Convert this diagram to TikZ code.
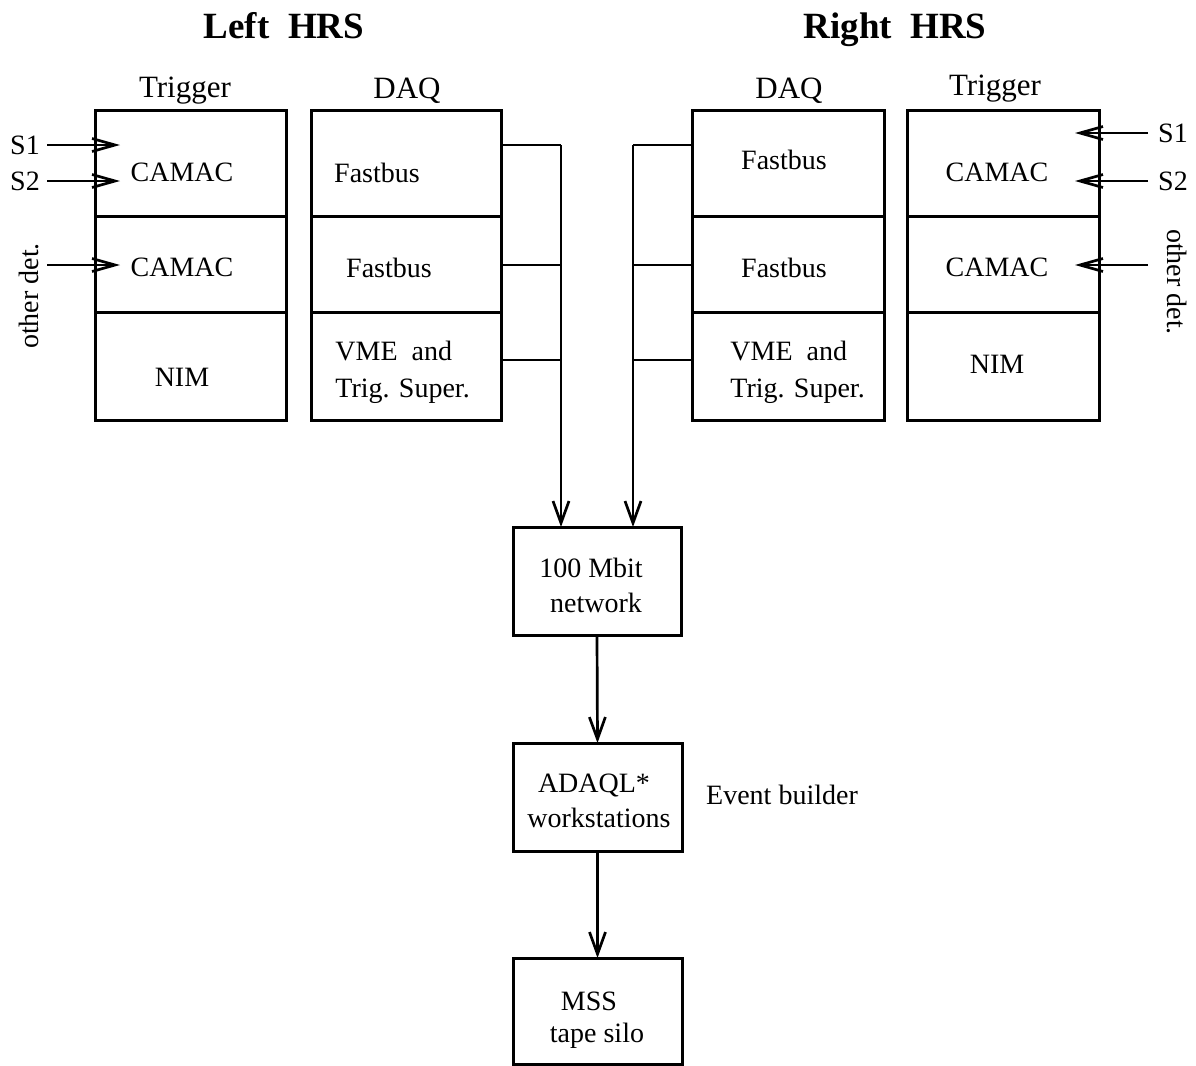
\documentclass[tikz,border=0pt]{standalone}
\usepackage{fontspec}
\setmainfont{Liberation Serif}
\usetikzlibrary{arrows.meta}
\begin{document}
\begin{tikzpicture}[x=0.5pt,y=-0.5pt,
  cell/.style={draw,line width=1.5pt,inner sep=0pt,outer sep=0pt},
  txt/.style={inner sep=0pt,anchor=base,font=\fontsize{14}{17.5}\selectfont},
  ltxt/.style={txt,anchor=base west},
  head/.style={inner sep=0pt,anchor=base,font=\fontsize{15.5}{18}\selectfont},
  title/.style={inner sep=0pt,anchor=base,font=\fontsize{18.5}{22}\selectfont\bfseries},
  conn/.style={line width=1.35pt},
  varr/.style={conn,-{Straight Barb[length=11pt,width=8pt,line width=1.35pt]}},
  harr/.style={conn,-{Straight Barb[length=11.5pt,width=6.5pt,line width=1.35pt]}}
]
\useasboundingbox (0,0) rectangle (1196,1066);
% titles
\node[title] (tl) at (284,38) {Left\ \ HRS};
\node[title] (tr) at (895,38) {Right\ \ HRS};
\node[head] (hlt) at (185,97) {Trigger};
\node[head] (hld) at (407,98) {DAQ};
\node[head] (hrd) at (789,98) {DAQ};
\node[head] (hrt) at (995,95) {Trigger};
% left trigger cells
\node[cell,minimum width=95.5pt,minimum height=53pt] (lt1) at (190.5,163) {};
\node[cell,minimum width=95.5pt,minimum height=48pt] (lt2) at (190.5,264) {};
\node[cell,minimum width=95.5pt,minimum height=54pt] (lt3) at (190.5,366) {};
% left DAQ cells
\node[cell,minimum width=95pt,minimum height=53pt] (ld1) at (406,163) {};
\node[cell,minimum width=95pt,minimum height=48pt] (ld2) at (406,264) {};
\node[cell,minimum width=95pt,minimum height=54pt] (ld3) at (406,366) {};
% right DAQ cells
\node[cell,minimum width=96pt,minimum height=53pt] (rd1) at (788,163) {};
\node[cell,minimum width=96pt,minimum height=48pt] (rd2) at (788,264) {};
\node[cell,minimum width=96pt,minimum height=54pt] (rd3) at (788,366) {};
% right trigger cells
\node[cell,minimum width=96pt,minimum height=53pt] (rt1) at (1003,163) {};
\node[cell,minimum width=96pt,minimum height=48pt] (rt2) at (1003,264) {};
\node[cell,minimum width=96pt,minimum height=54pt] (rt3) at (1003,366) {};
% cell texts
\node[txt] (tlt1) at (182,181) {CAMAC};
\node[txt] (tlt2) at (182,276) {CAMAC};
\node[txt] (tlt3) at (182,386) {NIM};
\node[txt] (tld1) at (377,182) {Fastbus};
\node[txt] (tld2) at (389,277) {Fastbus};
\node[ltxt] (tld3a) at (335,360) {VME\ \ and};
\node[ltxt] (tld3b) at (335,397) {Trig. Super.};
\node[txt] (trd1) at (784,169) {Fastbus};
\node[txt] (trd2) at (784,277) {Fastbus};
\node[ltxt] (trd3a) at (730,360) {VME\ \ and};
\node[ltxt] (trd3b) at (730,397) {Trig. Super.};
\node[txt] (trt1) at (997,181) {CAMAC};
\node[txt] (trt2) at (997,276) {CAMAC};
\node[txt] (trt3) at (997,373) {NIM};
% central chain
\node[cell,minimum width=84pt,minimum height=54pt] (net) at (597,581) {};
\node[txt] (tnet1) at (591,577) {100 Mbit};
\node[txt] (tnet2) at (596,612) {network};
\node[cell,minimum width=84.5pt,minimum height=54pt] (ws) at (597.5,797) {};
\node[txt] (tws1) at (594,792) {ADAQL*};
\node[txt] (tws2) at (599,827) {workstations};
\node[txt] (evb) at (782,804) {Event builder};
\node[cell,minimum width=84.5pt,minimum height=53pt] (mss) at (597.5,1011) {};
\node[txt] (tmss1) at (589,1010) {MSS};
\node[txt] (tmss2) at (597,1042) {tape silo};
% inputs labels
\node[txt] (s1l) at (25,154) {S1};
\node[txt] (s2l) at (25,190) {S2};
\node[inner sep=0pt,font=\fontsize{14}{17.5}\selectfont,rotate=90] (odl) at (29,296) {other det.};
\node[txt] (s1r) at (1173,142) {S1};
\node[txt] (s2r) at (1173,190) {S2};
\node[inner sep=0pt,font=\fontsize{14}{17.5}\selectfont,rotate=-90] (odr) at (1177,282) {other det.};
% input arrows left
\coordinate (a1) at (47,145); \coordinate (b1) at (120,145);
\coordinate (a2) at (47,181); \coordinate (b2) at (120,181);
\coordinate (a3) at (47,265); \coordinate (b3) at (120,265);
\draw[harr] (a1) -- (b1);
\draw[harr] (a2) -- (b2);
\draw[harr] (a3) -- (b3);
% input arrows right
\coordinate (c1) at (1148,133); \coordinate (d1) at (1075,133);
\coordinate (c2) at (1148,181); \coordinate (d2) at (1075,181);
\coordinate (c3) at (1148,265); \coordinate (d3) at (1075,265);
\draw[harr] (c1) -- (d1);
\draw[harr] (c2) -- (d2);
\draw[harr] (c3) -- (d3);
% DAQ to network
\coordinate (jl) at (561,145);
\coordinate (jr) at (633,145);
\draw[conn] (ld1.east |- 0,145) -- (jl);
\draw[conn] (ld2.east |- 0,265) -- (jl |- 0,265);
\draw[conn] (ld3.east |- 0,360) -- (jl |- 0,360);
\draw[varr] (jl) -- (jl |- net.north);
\draw[conn] (rd1.west |- 0,145) -- (jr);
\draw[conn] (rd2.west |- 0,265) -- (jr |- 0,265);
\draw[conn] (rd3.west |- 0,360) -- (jr |- 0,360);
\draw[varr] (jr) -- (jr |- net.north);
% chain
\draw[varr] (net.south) -- (ws.north);
\draw[varr] (ws.south) -- (mss.north);
\end{tikzpicture}
\end{document}
